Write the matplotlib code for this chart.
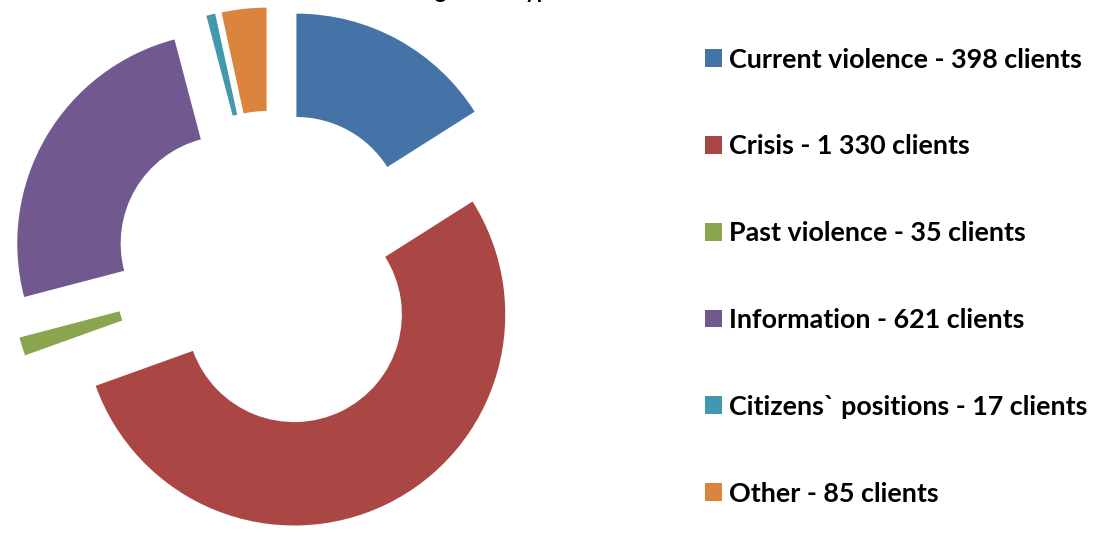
import matplotlib
matplotlib.use('Agg')
import matplotlib.pyplot as plt

# clients by type of call
categories = ['Current violence', 'Crisis', 'Past violence', 'Information',
              'Citizens` positions', 'Other']
clients = [398, 1330, 35, 621, 17, 85]
labels = ['Current violence - 398 clients', 'Crisis - 1 330 clients',
          'Past violence - 35 clients', 'Information - 621 clients',
          'Citizens` positions - 17 clients', 'Other - 85 clients']
colors = ['#4572A7', '#AA4643', '#89A54E', '#71588F', '#4198AF', '#DB843D']

plt.rcParams['font.family'] = ['Lato', 'DejaVu Sans']

fig = plt.figure(figsize=(10.95, 5.35), dpi=100)
ax = fig.add_axes([0, 0, 1, 1])

wedges, _ = ax.pie(clients, colors=colors, startangle=90, counterclock=False,
                   radius=1, explode=[0.24] * len(clients),
                   wedgeprops=dict(width=0.49, edgecolor='none'))

# center of donut at (272, 269) px, outer radius ~211 px
scale = 211
ax.set_xlim(-272 / scale, (1095 - 272) / scale)
ax.set_ylim(-(535 - 269) / scale, 269 / scale)
ax.set_aspect('auto')
ax.axis('off')

# title is mostly cut off at the top of the image
fig.text(276 / 1095, 1.0 + 2 / 535, 'Clients according to the type of call',
         fontsize=16, fontweight='bold', ha='left', va='baseline')

fig.legend(wedges, labels, loc='center left', bbox_to_anchor=(705 / 1095, 0.483),
           frameon=False, prop={'weight': 'bold', 'size': 19.4},
           handlelength=0.63, handleheight=0.63, handletextpad=0.27,
           labelspacing=2.33, borderpad=0, borderaxespad=0)

fig.savefig('out.png', dpi=100)
